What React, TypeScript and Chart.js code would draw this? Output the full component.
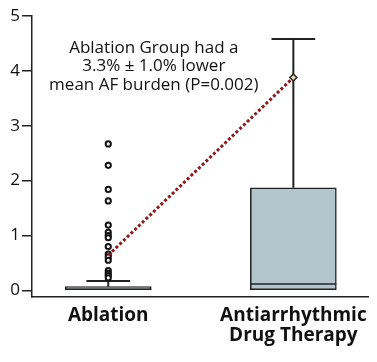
import React, { useEffect, useRef } from "react";
import { Chart, registerables } from "chart.js";
Chart.register(...registerables);

const categories: (string | string[])[] = ["Ablation", ["Antiarrhythmic", "Drug Therapy"]];
const positions = [1, 2];
const q1 = [0, 0];
const medians = [0.02, 0.115];
const q3 = [0.07, 1.87];
const whiskerHigh = [0.17, 4.58];
const means = [0.64, 3.88];
const ablationOutliers = [2.67, 2.28, 1.84, 1.63, 1.19, 1.06, 1.0, 0.96, 0.8, 0.66, 0.61, 0.55, 0.36, 0.31, 0.27, 0.23];
const yTicks = [0, 1, 2, 3, 4, 5];
const annotationLines = ["Ablation Group had a", "3.3% ± 1.0% lower", "mean AF burden (P=0.002)"];

const INK = "#222222";
const BOX_FILL = "#b2c5cd";
const MEAN_LINE = "#8e1b1b";
const CAP_HALF = 0.118;
const BOX_HALF = 0.232;

export default function App() {
  const ref = useRef<HTMLCanvasElement | null>(null);
  useEffect(() => {
    document.body.style.margin = "0";
    const canvas = ref.current!;
    const segments: any[] = [];
    positions.forEach((p, i) => {
      segments.push({ type: "line", data: [{ x: p, y: q3[i] }, { x: p, y: whiskerHigh[i] }], borderColor: INK, borderWidth: 2, pointRadius: 0, order: 2 });
      segments.push({ type: "line", data: [{ x: p - CAP_HALF, y: whiskerHigh[i] }, { x: p + CAP_HALF, y: whiskerHigh[i] }], borderColor: INK, borderWidth: 2, pointRadius: 0, order: 2 });
      segments.push({ type: "line", data: [{ x: p - BOX_HALF, y: medians[i] }, { x: p + BOX_HALF, y: medians[i] }], borderColor: INK, borderWidth: 1.5, pointRadius: 0, order: 1 });
    });
    const annotationPlugin = {
      id: "annot",
      afterDatasetsDraw(chart: any) {
        const ctx = chart.ctx;
        const xs = chart.scales.x;
        const ys = chart.scales.y;
        ctx.save();
        ctx.fillStyle = "#111";
        ctx.font = "17px 'Open Sans'";
        ctx.textAlign = "center";
        ctx.textBaseline = "middle";
        const cx = xs.getPixelForValue(1.246);
        const top = ys.getPixelForValue(4.42);
        annotationLines.forEach((t, k) => ctx.fillText(t, cx, top + k * 18.5));
        ctx.restore();
      },
    };
    const chart = new Chart(canvas, {
      type: "bar",
      data: {
        datasets: [
          {
            type: "line",
            data: positions.map((p, i) => ({ x: p, y: means[i] })),
            borderColor: MEAN_LINE,
            borderWidth: 3,
            borderDash: [3, 2.2],
            pointRadius: [0, 3.5],
            pointStyle: "rectRot",
            pointBackgroundColor: "#e9dcc0",
            pointBorderColor: INK,
            pointBorderWidth: 1.5,
            order: 0,
          } as any,
          {
            type: "scatter",
            data: ablationOutliers.map((v) => ({ x: positions[0], y: v })),
            pointRadius: 2.6,
            pointBorderWidth: 2,
            pointBorderColor: "#111",
            pointBackgroundColor: "#fff",
            order: 1,
          } as any,
          ...segments,
          {
            type: "bar",
            data: positions.map((p, i) => ({ x: p, y: [q1[i], q3[i]] })),
            backgroundColor: BOX_FILL,
            borderColor: INK,
            borderWidth: 1.5,
            borderSkipped: false,
            barThickness: 86,
            grouped: false,
            order: 3,
          } as any,
        ],
      },
      options: {
        animation: false,
        responsive: false,
        layout: { padding: { top: 16, right: 5, left: 0, bottom: 0 } },
        plugins: { legend: { display: false }, tooltip: { enabled: false } },
        scales: {
          x: {
            type: "linear",
            offset: false,
            min: 0.588,
            max: 2.406,
            afterBuildTicks: (axis: any) => {
              axis.ticks = positions.map((v) => ({ value: v }));
            },
            afterFit: (axis: any) => {
              axis.height = 65;
            },
            ticks: {
              autoSkip: false,
              maxRotation: 0,
              padding: 9,
              color: "#111",
              font: { family: "'Open Sans'", size: 19, weight: "bold", lineHeight: 1.05 },
              callback: (v: any) => {
                const idx = positions.indexOf(Number(v));
                return idx >= 0 ? (categories[idx] as any) : "";
              },
            },
            grid: { display: false, drawTicks: false, offset: false },
            border: { display: true, color: INK, width: 1.5 },
          },
          y: {
            type: "linear",
            min: -0.12,
            max: 5,
            afterBuildTicks: (axis: any) => {
              axis.ticks = yTicks.map((v) => ({ value: v }));
            },
            afterFit: (axis: any) => {
              axis.width = 32;
            },
            ticks: {
              padding: 2,
              color: "#111",
              font: { family: "'Open Sans'", size: 17 },
            },
            grid: { drawOnChartArea: false, drawTicks: true, tickLength: 10, color: INK, lineWidth: 1.5 },
            border: { display: true, color: INK, width: 1.5 },
          },
        },
      },
      plugins: [annotationPlugin],
    });
    return () => chart.destroy();
  }, []);
  return <canvas ref={ref} width={377} height={362} style={{ display: "block" }} />;
}
